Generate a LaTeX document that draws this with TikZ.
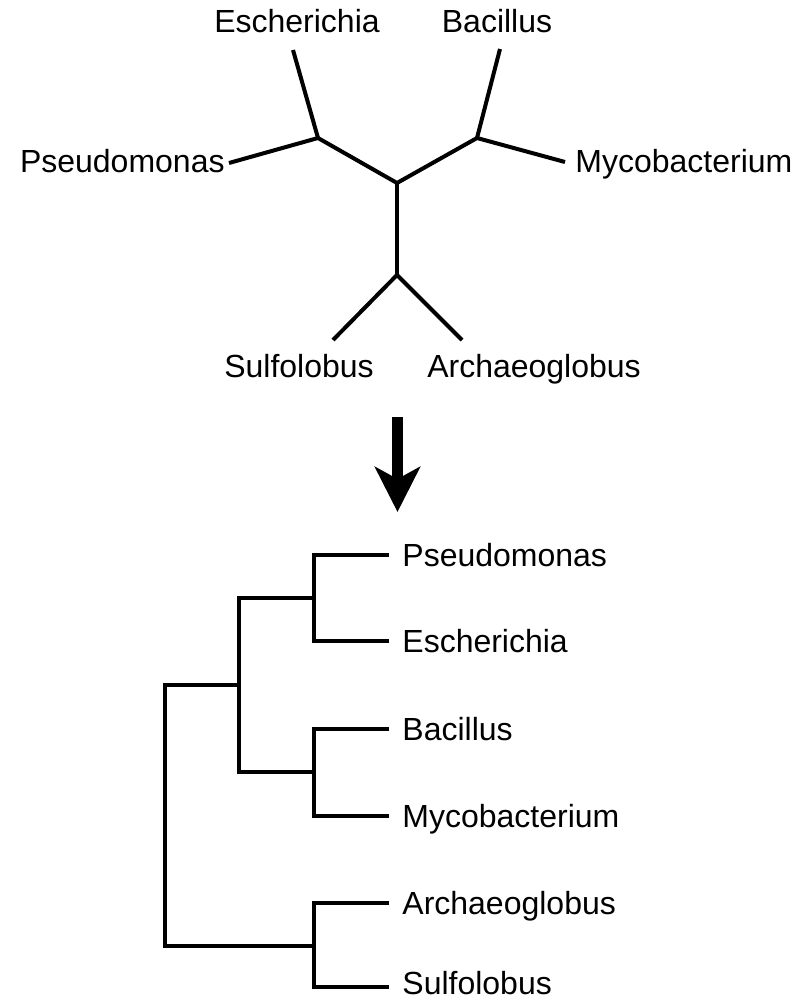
\documentclass[tikz,border=0pt]{standalone}
\usepackage{fontspec}
\setmainfont{Liberation Sans}
\usetikzlibrary{arrows.meta, positioning}
\tikzset{
  every node/.style={font=\fontsize{16}{19}\selectfont},
  taxon/.style={inner sep=0pt, text height=11.5pt, text depth=0pt},
  branch/.style={line width=2pt, draw=black},
  bigarr/.style={-{Stealth[length=22.5pt, width=22.5pt, inset=6pt]}, line width=5.5pt},
}

\begin{document}
\begin{tikzpicture}[x=0.5pt, y=-0.5pt]
    \useasboundingbox (0,0) rectangle (800,1000);

        % Unrooted tree: inner points
        \coordinate (uC) at (397,183);
        \coordinate (uL) at (318,138);
        \coordinate (uR) at (477,138);
        \coordinate (uB) at (397,275);

        % Unrooted tree: leaf tips
        \coordinate (tPse) at (229,163);
        \coordinate (tEsc) at (293,50);
        \coordinate (tBac) at (500,49);
        \coordinate (tMyc) at (565,162);
        \coordinate (tSul) at (333,340);
        \coordinate (tArc) at (462,340);

        % Unrooted tree: labels
        \node[taxon, anchor=east] (pse1) at (225,161) {Pseudomonas};
        \node[taxon, anchor=south] (esc1) at (297,33) {Escherichia};
        \node[taxon, anchor=south] (bac1) at (497,33) {Bacillus};
        \node[taxon, anchor=west] (myc1) at (575,161) {Mycobacterium};
        \node[taxon, anchor=north] (sul1) at (299,354) {Sulfolobus};
        \node[taxon, anchor=north] (arc1) at (534,354) {Archaeoglobus};

        % Unrooted tree: branches
        \draw[branch] (tPse) -- (uL) -- (uC) -- (uR) -- (tMyc);
        \draw[branch] (tEsc) -- (uL);
        \draw[branch] (tBac) -- (uR);
        \draw[branch] (uC) -- (uB);
        \draw[branch] (tSul) -- (uB) -- (tArc);

        % Arrow between the two trees
        \coordinate (arrTop) at (397.5,417);
        \coordinate (arrTip) at (397.5,512);
        \draw[bigarr] (arrTop) -- (arrTip);

        % Rooted tree: leaf ends
        \coordinate (lPse) at (389,555);
        \coordinate (lEsc) at (389,641);
        \coordinate (lBac) at (389,729);
        \coordinate (lMyc) at (389,816);
        \coordinate (lArc) at (389,903);
        \coordinate (lSul) at (389,987);

        % Rooted tree: joins
        \coordinate (jPE) at (314,598);
        \coordinate (jBM) at (314,772);
        \coordinate (jAS) at (314,946);
        \coordinate (jBact) at (239,685);
        \coordinate (jRoot) at (165,816);

        % Rooted tree: labels
        \node[taxon, right=6.5pt of lPse] (pse2) {Pseudomonas};
        \node[taxon, right=6.5pt of lEsc] (esc2) {Escherichia};
        \node[taxon, right=6.5pt of lBac] (bac2) {Bacillus};
        \node[taxon, right=6.5pt of lMyc] (myc2) {Mycobacterium};
        \node[taxon, right=6.5pt of lArc] (arc2) {Archaeoglobus};
        \node[taxon, right=6.5pt of lSul, yshift=2pt] (sul2) {Sulfolobus};

        % Rooted tree: branches
        \draw[branch] (lPse) -| (jPE) |- (lEsc);
        \draw[branch] (lBac) -| (jBM) |- (lMyc);
        \draw[branch] (lArc) -| (jAS) |- (lSul);
        \draw[branch] (jPE) -| (jBact) |- (jBM);
        \draw[branch] (jBact) -| (jRoot) |- (jAS);

\end{tikzpicture}
\end{document}
